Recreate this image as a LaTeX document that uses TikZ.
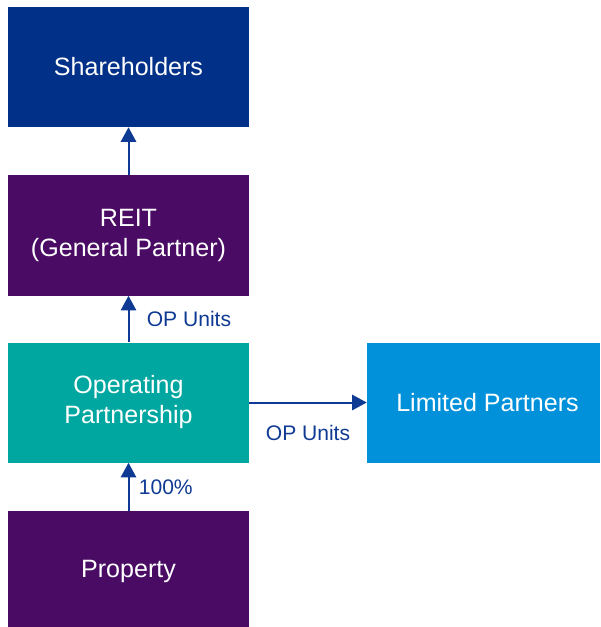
\documentclass[tikz,border=0pt]{standalone}
\usepackage{fontspec}
\setmainfont{Liberation Sans}
\usepackage{xcolor}
\usetikzlibrary{arrows.meta,positioning}
\definecolor{shblue}{HTML}{003087}
\definecolor{reitpurple}{HTML}{490B63}
\definecolor{opteal}{HTML}{00A7A0}
\definecolor{lpblue}{HTML}{0091DA}
\definecolor{arrblue}{HTML}{0F3A93}

\begin{document}
\begin{tikzpicture}[
  x=0.75pt, y=-0.75pt,
  box/.style={draw=none, text=white, align=center, font=\fontsize{18.8}{22.5}\selectfont,
    minimum width=180.75pt, minimum height=90pt, inner sep=0pt},
  arr/.style={-{Triangle[length=11pt,width=11.5pt]}, line width=1.5pt, arrblue},
  elab/.style={font=\fontsize{15.8}{18}\selectfont, text=arrblue, inner sep=1pt},
]
\useasboundingbox (0,0) rectangle (600,627);
% ---- column: ownership chain ----
\node[box, fill=shblue]     (share) at (128.5, 67)    {Shareholders};
\node[box, fill=reitpurple] (reit)  at (128.5, 235.5) {REIT\\(General Partner)};
\node[box, fill=opteal]     (oppart) at (128.5, 402.5) {Operating\\Partnership};
\node[box, fill=reitpurple] (prop) at (128.5, 571) {Property};
% ---- side: limited partners ----
\node[box, fill=lpblue, minimum width=174.75pt] (lp) at (483.5, 402.5) {\hspace*{6pt}Limited Partners};

\draw[arr] (reit.north) -- (share.south);
\draw[arr] (oppart.north) -- node[elab, right=12pt] {OP Units} (reit.south);
\draw[arr] (prop.north) -- node[elab, right=6pt] {100\%} (oppart.south);
\draw[arr] (oppart.east) -- node[elab, below=15pt] {OP Units} (lp.west);
\end{tikzpicture}
\end{document}
